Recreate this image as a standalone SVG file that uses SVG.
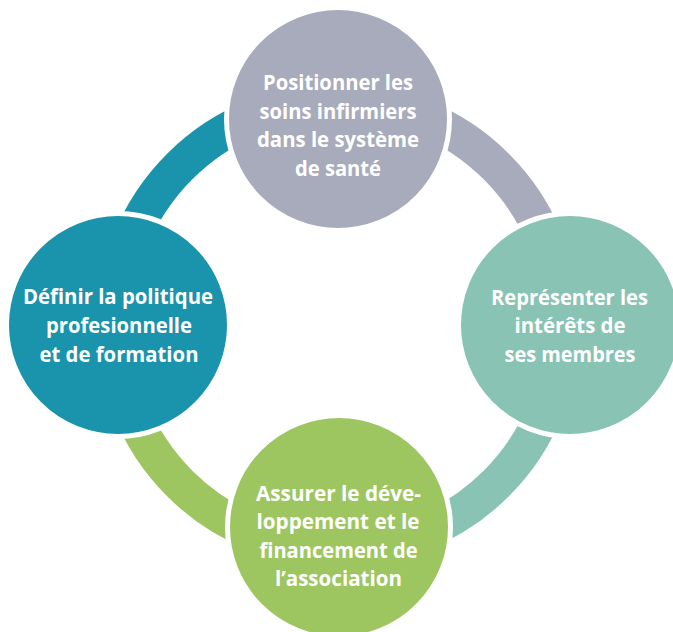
<svg xmlns="http://www.w3.org/2000/svg" width="673" height="632" viewBox="0 0 673 632">
<style>
.arc{fill:none;stroke-width:36}
.node{stroke:#fff;stroke-width:5}
.t{font-family:"Open Sans","Liberation Sans",sans-serif;font-weight:bold;font-size:20.5px;fill:#fff;text-anchor:middle}
</style>
<rect width="673" height="632" fill="#fff"/>
<g id="connectors">
<path class="arc" stroke="#1A93AD" d="M114 325 A224 224 0 0 1 338 101"/>
<path class="arc" stroke="#A8ABBB" d="M338 101 A224 224 0 0 1 562 325"/>
<path class="arc" stroke="#89C3B4" d="M562 325 A224 224 0 0 1 338 549"/>
<path class="arc" stroke="#9DC660" d="M338 549 A224 224 0 0 1 114 325"/>
</g>
<g id="node-top">
<circle class="node" cx="338" cy="119" r="111.5" fill="#A8ABBB"/>
<text class="t"><tspan x="338" y="90" textLength="150" lengthAdjust="spacingAndGlyphs">Positionner les</tspan><tspan x="338" y="118.5" textLength="157" lengthAdjust="spacingAndGlyphs">soins infirmiers</tspan><tspan x="338" y="147" textLength="162" lengthAdjust="spacingAndGlyphs">dans le système</tspan><tspan x="338" y="175.5" textLength="86" lengthAdjust="spacingAndGlyphs">de santé</tspan></text>
</g>
<g id="node-left">
<circle class="node" cx="118" cy="325" r="111.5" fill="#1A93AD"/>
<text class="t"><tspan x="118" y="304" textLength="190" lengthAdjust="spacingAndGlyphs">Définir la politique</tspan><tspan x="119" y="333" textLength="146" lengthAdjust="spacingAndGlyphs">profesionnelle</tspan><tspan x="119" y="361.5" textLength="159" lengthAdjust="spacingAndGlyphs">et de formation</tspan></text>
</g>
<g id="node-right">
<circle class="node" cx="570" cy="325" r="111.5" fill="#89C3B4"/>
<text class="t"><tspan x="569.5" y="305" textLength="157" lengthAdjust="spacingAndGlyphs">Représenter les</tspan><tspan x="570" y="333" textLength="111" lengthAdjust="spacingAndGlyphs">intérêts de</tspan><tspan x="570" y="362" textLength="131" lengthAdjust="spacingAndGlyphs">ses membres</tspan></text>
</g>
<g id="node-bottom">
<circle class="node" cx="339" cy="527" r="111.5" fill="#9DC660"/>
<text class="t"><tspan x="338.5" y="500.5" textLength="165" lengthAdjust="spacingAndGlyphs">Assurer le déve-</tspan><tspan x="338" y="529" textLength="163" lengthAdjust="spacingAndGlyphs">loppement et le</tspan><tspan x="338.5" y="557.5" textLength="158" lengthAdjust="spacingAndGlyphs">financement de</tspan><tspan x="338.5" y="586" textLength="127" lengthAdjust="spacingAndGlyphs">l’association</tspan></text>
</g>
</svg>
